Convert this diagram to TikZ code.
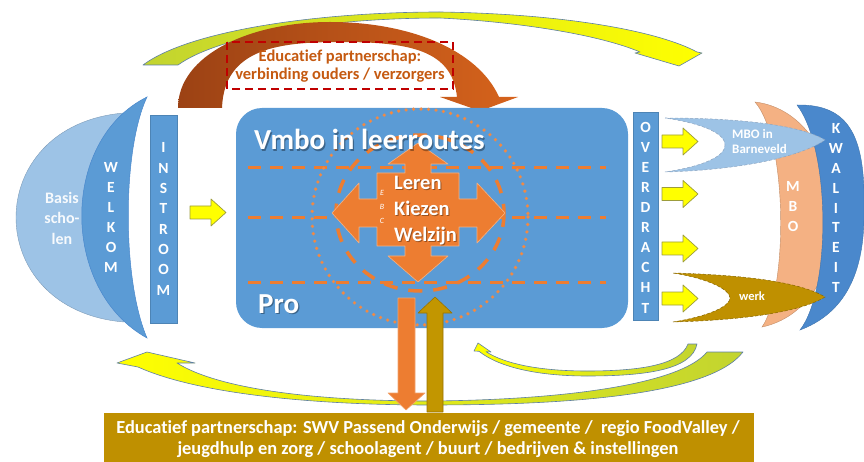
\documentclass[tikz,border=0pt]{standalone}
\usepackage{fontspec}
\setmainfont{Carlito}[Ligatures=NoCommon]
\newcommand\pxfont[2]{\fontsize{#1}{#2}\selectfont}
\definecolor{vblue}{HTML}{5B9BD5}
\definecolor{dblue}{HTML}{4A88CC}
\definecolor{lblue}{HTML}{9DC3E6}
\definecolor{peach}{HTML}{F4B183}
\definecolor{orng}{HTML}{ED7D31}
\definecolor{gold}{HTML}{BF9000}
\definecolor{brownL}{HTML}{9C4214}
\definecolor{brownR}{HTML}{D6631C}
\definecolor{ygreen}{HTML}{C2D430}
\definecolor{yel}{HTML}{FFFF00}
\definecolor{redbox}{HTML}{C00000}
\definecolor{txtbrown}{HTML}{C55A11}
\definecolor{edgeblue}{HTML}{5E7FA5}
\definecolor{olivedge}{HTML}{9C9C3C}
\begin{document}
\begin{tikzpicture}[x=1pt,y=-1pt,
  bartext/.style={text=white,font=\bfseries\pxfont{15.5}{20},align=center,inner sep=0pt},
  barfill/.style={fill=vblue,draw=vblue!85!black,line width=0.4pt},
  yelarrow/.style={fill=yel,draw=olivedge,line width=0.7pt,line join=round},
  curvearrow/.style={draw=edgeblue,line width=0.6pt,line join=round},
  orangedash/.style={draw=orng,line width=3pt,dash pattern=on 13pt off 9pt},
  bigtext/.style={text=white,font=\bfseries\pxfont{29}{30},inner sep=0pt},
  crosstext/.style={text=white,font=\bfseries\pxfont{20.5}{24},inner sep=0pt},
  shadowtext/.style={text=black,text opacity=0.35},
  yarrowpic/.pic={\path[yelarrow] (0,-6.5) -- (21,-6.5) -- (21,-13.5) -- (36,0) -- (21,13.5) -- (21,6.5) -- (0,6.5) -- cycle;}
]
\useasboundingbox (0,0) rectangle (864,462);

% ---------- top: yellow-green curved arrow to the MBO side ----------
\path[curvearrow,left color=ygreen,right color=yel]
  (143,65) .. controls (190,30) and (320,12) .. (440,12)
  .. controls (570,14) and (660,32) .. (697,52)
  -- (702,53) -- (679,66) -- (635,53) -- (640,52)
  .. controls (600,35) and (520,22) .. (440,18)
  .. controls (330,18) and (220,35) .. (178,65) -- cycle;

% ---------- top: brown arch arrow (parents / carers) ----------
\path[left color=brownL,right color=brownR]
  (178,108) .. controls (178,55) and (250,22) .. (330,22)
  .. controls (410,22) and (478,50) .. (499,97)
  -- (518,97) -- (480,111) -- (440,97) -- (457,97)
  .. controls (452,50) and (410,42) .. (340,42)
  .. controls (280,42) and (224,48) .. (222,108) -- cycle;

\draw[redbox,line width=2pt,dash pattern=on 8pt off 5pt] (227,42) rectangle (453,89);
\node[text=txtbrown,font=\bfseries\pxfont{16.5}{20},inner sep=0pt,anchor=base] (ouders1) at (340,62) {Educatief partnerschap:};
\node[text=txtbrown,font=\bfseries\pxfont{16.5}{20},inner sep=0pt,anchor=base] (ouders2) at (340,80) {verbinding ouders / verzorgers};

% ---------- left: primary schools, welcome, intake ----------
\path[fill=lblue,draw=lblue!80!black,line width=0.4pt]
  (124,113) .. controls (-20,125) and (-20,310) .. (124,322) -- cycle;
\path[fill=vblue,draw=dblue,line width=0.5pt]
  (147,97) .. controls (60,140) and (60,290) .. (147,338)
  .. controls (122,280) and (122,150) .. (147,97) -- cycle;
\node[text=white!92!lblue,font=\bfseries\pxfont{16}{20.5},align=center,inner sep=0pt] (basis) at (62,218) {Basis\\scho-\\len};
\node[bartext] (welkom) at (111,217) {W\\E\\L\\K\\O\\M};

\path[barfill] (150,115) rectangle (177,323);
\node[bartext,font=\bfseries\pxfont{15.5}{20.3}] (instroom) at (163.5,219) {I\\N\\S\\T\\R\\O\\O\\M};

\pic at (190,212.5) {yarrowpic};

% ---------- centre: vmbo learning routes ----------
\path[fill=vblue,rounded corners=26pt] (236,108) rectangle (628,328);
\draw[orangedash] (248,168) -- (606,168);
\draw[orangedash] (248,218) -- (606,218);
\draw[orangedash] (248,282) -- (606,282);
\draw[orng!90!white,line width=3.6pt,line cap=round,dash pattern=on 0pt off 7.5pt] (420,217) circle [radius=108];
\draw[orng,line width=3.5pt,dash pattern=on 14pt off 11pt] (420,213) ellipse [x radius=84,y radius=78];

\path[fill=orng,draw=orng!60!white,line width=0.6pt,line join=round]
  (332,213) -- (359,183) -- (359,199) -- (377,199) -- (377,173) -- (405,173)
  -- (405,164) -- (388,164) -- (418,143) -- (448,164) -- (431,164) -- (431,173)
  -- (459,173) -- (459,199) -- (477,199) -- (477,183) -- (505,213) -- (477,243)
  -- (477,227) -- (459,227) -- (459,246) -- (431,246) -- (431,256) -- (448,256)
  -- (418,282) -- (388,256) -- (405,256) -- (405,246) -- (377,246) -- (377,227)
  -- (359,227) -- (359,243) -- cycle;

\node[bigtext,shadowtext,anchor=base west] (vmbosh) at (255.2,151.2) {Vmbo in leerroutes};
\node[bigtext,anchor=base west] (vmbo) at (254,150) {Vmbo in leerroutes};
\node[bigtext,shadowtext,anchor=base west] (prosh) at (259.2,314.2) {Pro};
\node[bigtext,anchor=base west] (pro) at (258,313) {Pro};

\node[crosstext,shadowtext,anchor=base west] (lerensh) at (395,191) {Leren};
\node[crosstext,anchor=base west] (leren) at (394,190) {Leren};
\node[crosstext,shadowtext,anchor=base west] (kiezensh) at (395,217) {Kiezen};
\node[crosstext,anchor=base west] (kiezen) at (394,216) {Kiezen};
\node[crosstext,shadowtext,anchor=base west] (welzijnsh) at (395,243) {Welzijn};
\node[crosstext,anchor=base west] (welzijn) at (394,242) {Welzijn};
\node[text=white,font=\itshape\pxfont{8}{14},align=center,inner sep=0pt] (ebc) at (382,207) {E\\B\\C};

% ---------- right: transfer, MBO, work, quality ----------
\path[barfill] (633,112) rectangle (658,320);
\node[bartext,font=\bfseries\pxfont{15.5}{20.1}] (overdracht) at (645.5,217.5) {O\\V\\E\\R\\D\\R\\A\\C\\H\\T};

\pic at (662,141.5) {yarrowpic};
\pic at (662,194) {yarrowpic};
\pic at (662,248.5) {yarrowpic};
\pic at (662,298.5) {yarrowpic};

\path[fill=peach,draw=peach!80!black,line width=0.4pt]
  (755,102) .. controls (805,108) and (835,160) .. (835,215)
  .. controls (835,275) and (805,318) .. (762,327)
  .. controls (788,290) and (788,140) .. (755,102) -- cycle;
\node[bartext] (mbo) at (793,207) {M\\B\\O};

\path[fill=dblue,draw=dblue!85!black,line width=0.4pt]
  (797,105) .. controls (852,104) and (866,140) .. (864,215)
  .. controls (864,280) and (840,315) .. (800,330)
  .. controls (831,290) and (831,150) .. (797,105) -- cycle;

\path[fill=lblue,draw=edgeblue!70,densely dashed,line width=0.5pt]
  (665,118) .. controls (740,118) and (800,125) .. (825,140)
  .. controls (800,157) and (740,170) .. (665,172)
  .. controls (705,166) and (725,156) .. (725,145)
  .. controls (725,134) and (705,124) .. (665,118) -- cycle;
\node[text=white,font=\bfseries\pxfont{13}{15},inner sep=0pt,anchor=base west] (mbob1) at (732,139) {MBO in};
\node[text=white,font=\bfseries\pxfont{13}{15},inner sep=0pt,anchor=base west] (mbob2) at (732,154) {Barneveld};

\path[fill=gold,draw=gold!70!black,densely dashed,line width=0.5pt]
  (673,273) .. controls (745,275) and (800,282) .. (825,297)
  .. controls (800,312) and (745,320) .. (673,322)
  .. controls (710,316) and (730,306) .. (730,298)
  .. controls (730,290) and (710,279) .. (673,273) -- cycle;
\node[text=white,font=\bfseries\pxfont{12.5}{15},inner sep=0pt] (werk) at (752,296) {werk};

\node[bartext,font=\bfseries\pxfont{15.5}{19.9}] (kwaliteit) at (836,208) {K\\W\\A\\L\\I\\T\\E\\I\\T};

% ---------- bottom: feedback arrows and partners ----------
\path[curvearrow,left color=yel,right color=ygreen]
  (688,344) .. controls (680,365) and (640,371) .. (587,371)
  .. controls (540,371) and (505,364) .. (486,351.7)
  -- (491,352) -- (478,343) -- (474,351) -- (479,351.3)
  .. controls (500,368) and (540,376) .. (587,376)
  .. controls (645,376) and (692,370) .. (697,344) -- cycle;

\path[curvearrow,left color=yel,right color=ygreen]
  (707,352) .. controls (680,385) and (560,400) .. (430,401)
  .. controls (320,401) and (220,390) .. (177,363)
  -- (195,363) -- (147,352) -- (117,363) -- (138,367)
  .. controls (200,395) and (320,405) .. (430,405)
  .. controls (570,405) and (710,395) .. (743,352) -- cycle;

\path[fill=orng,draw=orng!70!white,line width=0.6pt,line join=round]
  (398,298) -- (415,298) -- (415,393) -- (425,393) -- (406,410) -- (388,393) -- (398,393) -- cycle;
\path[fill=gold!95!yellow,draw=gold!80!black,line width=0.6pt,line join=round]
  (427,412) -- (443,412) -- (443,313) -- (452,313) -- (435,297) -- (418,313) -- (427,313) -- cycle;

\path[fill=gold] (104,413) rectangle (754,470);
\node[text=white,font=\bfseries\pxfont{18.4}{21},inner sep=0pt,anchor=base] (partners1) at (428,433)
  {Educatief partnerschap: SWV Passend Onderwijs / gemeente /\ \ regio FoodValley /};
\node[text=white,font=\bfseries\pxfont{18.4}{21},inner sep=0pt,anchor=base] (partners2) at (428,454)
  {jeugdhulp en zorg / schoolagent / buurt / bedrijven \& instellingen};
\end{tikzpicture}
\end{document}
